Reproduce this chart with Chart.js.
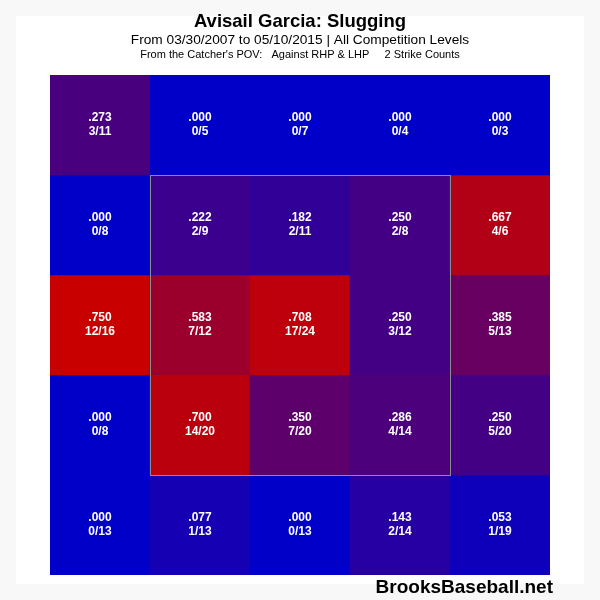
<!DOCTYPE html>
<html lang="en">
<head>
<meta charset="UTF-8">
<title>Avisail Garcia: Slugging</title>
<script src="https://cdn.jsdelivr.net/npm/chart.js"></script>
<style>
  html, body { margin: 0; padding: 0; background: #fff; }
  #wrap { width: 600px; height: 600px; }
</style>
</head>
<body>
<div id="wrap"><canvas id="zone" width="600" height="600"></canvas></div>
<script>
// zone grid, catcher's view, top row first
const columns = ['Col 1', 'Col 2', 'Col 3', 'Col 4', 'Col 5'];
const rows = ['Row 1', 'Row 2', 'Row 3', 'Row 4', 'Row 5'];

const slgRow1 = [0.273, 0.000, 0.000, 0.000, 0.000];
const slgRow2 = [0.000, 0.222, 0.182, 0.250, 0.667];
const slgRow3 = [0.750, 0.583, 0.708, 0.250, 0.385];
const slgRow4 = [0.000, 0.700, 0.350, 0.286, 0.250];
const slgRow5 = [0.000, 0.077, 0.000, 0.143, 0.053];

const tbRow1 = [3, 0, 0, 0, 0];
const tbRow2 = [0, 2, 2, 2, 4];
const tbRow3 = [12, 7, 17, 3, 5];
const tbRow4 = [0, 14, 7, 4, 5];
const tbRow5 = [0, 1, 0, 2, 1];

const abRow1 = [11, 5, 7, 4, 3];
const abRow2 = [8, 9, 11, 8, 6];
const abRow3 = [16, 12, 24, 12, 13];
const abRow4 = [8, 20, 20, 14, 20];
const abRow5 = [13, 13, 13, 14, 19];

const slg = [slgRow1, slgRow2, slgRow3, slgRow4, slgRow5];
const tb = [tbRow1, tbRow2, tbRow3, tbRow4, tbRow5];
const ab = [abRow1, abRow2, abRow3, abRow4, abRow5];

// strike zone: columns 2-4, rows 2-4
const zoneCols = [1, 3];
const zoneRows = [1, 3];

// blue (low) -> red (high)
function heat(v) {
    const t = Math.max(0, Math.min(1, v / 0.75));
    const r = Math.round(200 * t);
    const b = Math.round(200 * (1 - t));
    return `rgb(${r},0,${b})`;
}

function fmt(v) {
    return v.toFixed(3).replace(/^0/, '');
}

const datasets = rows.map((name, r) => ({
    label: name,
    data: columns.map(() => [r, r + 1]),
    backgroundColor: slg[r].map(heat),
    borderWidth: 0,
    barPercentage: 1,
    categoryPercentage: 1,
    grouped: false
}));

const background = {
    id: 'background',
    beforeDraw(chart) {
        const ctx = chart.ctx;
        ctx.save();
        ctx.fillStyle = '#f8f8f8';
        ctx.fillRect(0, 0, chart.width, chart.height);
        ctx.fillStyle = '#ffffff';
        ctx.fillRect(16, 16, chart.width - 32, chart.height - 32);
        ctx.restore();
    }
};

const overlay = {
    id: 'overlay',
    afterDatasetsDraw(chart) {
        const ctx = chart.ctx;
        const x = chart.scales.x, y = chart.scales.y;
        const w = (x.right - x.left) / columns.length;
        ctx.save();

        // cell labels
        ctx.fillStyle = '#ffffff';
        ctx.textAlign = 'center';
        ctx.textBaseline = 'middle';
        ctx.font = 'bold 12px "Liberation Sans", Arial, sans-serif';
        rows.forEach((_, r) => {
            columns.forEach((_, c) => {
                const cx = x.getPixelForValue(c);
                const cy = y.getPixelForValue(r + 0.5);
                ctx.fillText(fmt(slg[r][c]), cx, cy - 7);
                ctx.fillText(tb[r][c] + '/' + ab[r][c], cx, cy + 7);
            });
        });

        // strike zone outline
        const zx0 = x.getPixelForValue(zoneCols[0]) - w / 2;
        const zx1 = x.getPixelForValue(zoneCols[1]) + w / 2;
        const zy0 = y.getPixelForValue(zoneRows[0]);
        const zy1 = y.getPixelForValue(zoneRows[1] + 1);
        ctx.strokeStyle = '#8c8c8c';
        ctx.lineWidth = 1;
        ctx.strokeRect(Math.round(zx0) + 0.5, Math.round(zy0) + 0.5, zx1 - zx0, zy1 - zy0);

        // headings
        ctx.fillStyle = '#000000';
        ctx.font = 'bold 18.5px "Liberation Sans", Arial, sans-serif';
        ctx.fillText('Avisail Garcia: Slugging', 300, 22);
        ctx.font = '13.7px "Liberation Sans", Arial, sans-serif';
        ctx.fillText('From 03/30/2007 to 05/10/2015 | All Competition Levels', 300, 40);
        ctx.font = '11px "Liberation Sans", Arial, sans-serif';
        ctx.fillText("From the Catcher's POV:   Against RHP & LHP     2 Strike Counts", 300, 55);

        ctx.textAlign = 'right';
        ctx.font = 'bold 19px "Liberation Sans", Arial, sans-serif';
        ctx.fillText('BrooksBaseball.net', 553, 588);
        ctx.restore();
    }
};

new Chart(document.getElementById('zone'), {
    type: 'bar',
    data: { labels: columns, datasets: datasets },
    options: {
        responsive: false,
        animation: false,
        layout: { padding: { left: 50, right: 50, top: 75, bottom: 25 } },
        plugins: {
            legend: { display: false },
            tooltip: { enabled: false },
            title: { display: false }
        },
        scales: {
            x: { display: false, offset: true },
            y: { display: false, min: 0, max: 5, reverse: true }
        }
    },
    plugins: [background, overlay]
});
</script>
</body>
</html>
